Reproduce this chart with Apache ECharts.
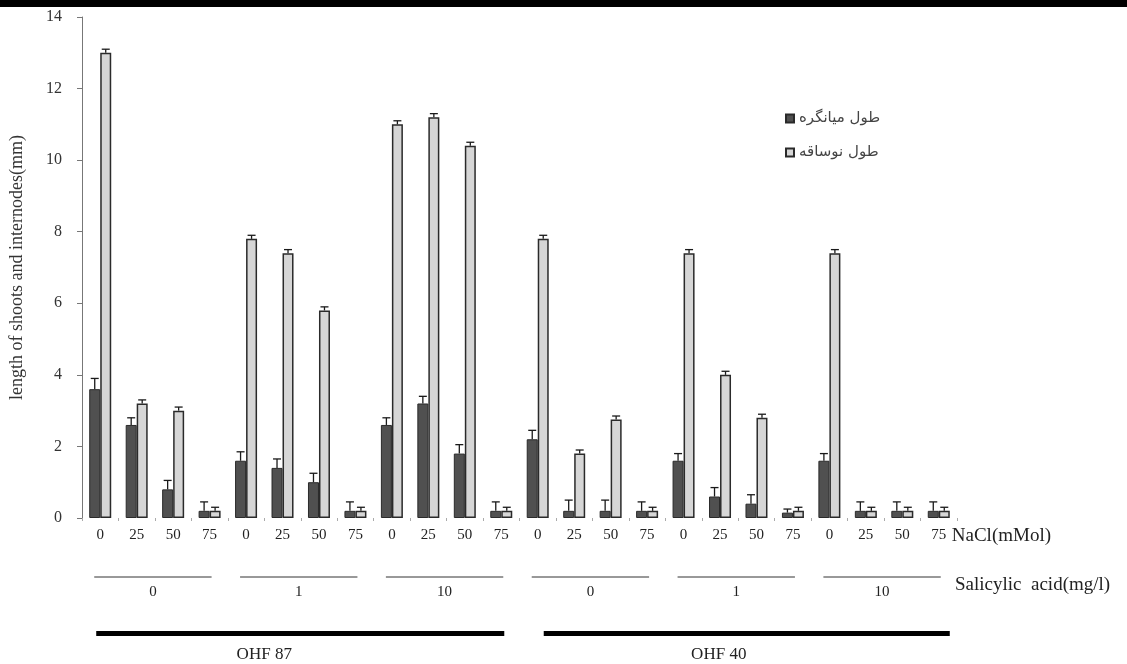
<!DOCTYPE html>
<html><head><meta charset="utf-8">
<script src="https://cdn.jsdelivr.net/npm/echarts@6/dist/echarts.min.js"></script>
<style>html,body{margin:0;padding:0;background:#fff}#c{width:1127px;height:664px}</style>
</head><body><div id="c"></div>
<script>
// ---- data ----
const naclLabels = ['0','25','50','75','0','25','50','75','0','25','50','75','0','25','50','75','0','25','50','75','0','25','50','75'];
const internode    = [3.6,2.6,0.8,0.2, 1.6,1.4,1.0,0.2, 2.6,3.2,1.8,0.2, 2.2,0.2,0.2,0.2, 1.6,0.6,0.4,0.15, 1.6,0.2,0.2,0.2];
const internodeErr = [0.3,0.2,0.25,0.25, 0.25,0.25,0.25,0.25, 0.2,0.2,0.25,0.25, 0.25,0.3,0.3,0.25, 0.2,0.25,0.25,0.1, 0.2,0.25,0.25,0.25];
const shoot        = [13.0,3.2,3.0,0.2, 7.8,7.4,5.8,0.2, 11.0,11.2,10.4,0.2, 7.8,1.8,2.75,0.2, 7.4,4.0,2.8,0.2, 7.4,0.2,0.2,0.2];
const shootErr     = [0.1,0.1,0.1,0.1, 0.1,0.1,0.1,0.1, 0.1,0.1,0.1,0.1, 0.1,0.1,0.1,0.1, 0.1,0.1,0.1,0.1, 0.1,0.1,0.1,0.1];
const salicylicLabels = ['0','1','10','0','1','10'];
const cultivarLabels = ['OHF 87','OHF 40'];
const seriesNames = ['طول میانگره','طول نوساقه'];
const yTicks = {min:0, max:14, interval:2};

const FONT = 'Liberation Serif';
const BAR_W = 11, CAP = 4;
const chart = echarts.init(document.getElementById('c'));

function errItem(sign){
  return function(params, api){
    const i = api.value(0);
    const p0 = api.coord([i, api.value(1)]);
    const p1 = api.coord([i, api.value(2)]);
    const x = p0[0] + sign*BAR_W/2;
    const st = {stroke:'#1a1a1a', lineWidth:1.3};
    return {type:'group', children:[
      {type:'line', shape:{x1:x,y1:p0[1],x2:x,y2:p1[1]}, style:st},
      {type:'line', shape:{x1:x-CAP,y1:p1[1],x2:x+CAP,y2:p1[1]}, style:st}
    ]};
  };
}

chart.setOption({
  backgroundColor:'#fff',
  animation:false,
  grid:{left:79, right:170, top:17, bottom:146},
  legend:{
    data:seriesNames, orient:'vertical', left:780, top:106, itemGap:19,
    itemWidth:8, itemHeight:8, icon:'rect',
    textStyle:{fontFamily:'DejaVu Sans', fontSize:15, color:'#444'}
  },
  xAxis:{
    type:'category', data:naclLabels,
    axisLine:{show:false},
    axisTick:{show:true, length:3, lineStyle:{color:'#aaa'}},
    axisLabel:{fontFamily:FONT, fontSize:15, color:'#222', margin:10, interval:0}
  },
  yAxis:{
    type:'value', min:yTicks.min, max:yTicks.max, interval:yTicks.interval,
    name:'length of shoots and internodes(mm)', nameLocation:'middle', nameGap:56,
    nameTextStyle:{fontFamily:FONT, fontSize:18, color:'#333'},
    axisLine:{show:true, lineStyle:{color:'#777', width:1}},
    axisTick:{show:true, length:5, lineStyle:{color:'#777'}},
    axisLabel:{fontFamily:FONT, fontSize:16, color:'#333', margin:20},
    splitLine:{show:false}
  },
  series:[
    {name:seriesNames[0], type:'bar', data:internode, barWidth:BAR_W, barGap:'0%',
     itemStyle:{color:'#505050', borderColor:'#2a2a2a', borderWidth:1}},
    {name:seriesNames[1], type:'bar', data:shoot, barWidth:BAR_W, barGap:'0%',
     itemStyle:{color:'#d6d6d6', borderColor:'#2a2a2a', borderWidth:1.5}},
    {type:'custom', renderItem:errItem(-1), z:5,
     data:internode.map((v,i)=>[i, v, v+internodeErr[i]])},
    {type:'custom', renderItem:errItem(1), z:5,
     data:shoot.map((v,i)=>[i, v, v+shootErr[i]])}
  ]
});

// ---- group annotations positioned from the category axis ----
const px = i => chart.convertToPixel({xAxisIndex:0}, i);
const g = [{type:'rect', shape:{x:0,y:0,width:1127,height:7}, style:{fill:'#000'}}];
salicylicLabels.forEach((lab, k) => {
  const a = px(k*4) - 6, b = px(k*4+3) + 2;
  g.push({type:'line', shape:{x1:a,y1:577,x2:b,y2:577}, style:{stroke:'#333', lineWidth:1}});
  g.push({type:'text', x:(a+b)/2, y:592, style:{text:lab, font:'15px '+FONT, fill:'#222', align:'center', verticalAlign:'middle'}});
});
cultivarLabels.forEach((lab, k) => {
  const a = px(k*12) - 4 + k*10, b = px(k*12+11) + 3 + k*8;
  g.push({type:'rect', shape:{x:a,y:631,width:b-a,height:5}, style:{fill:'#000'}});
  g.push({type:'text', x:(a+b)/2 - 36 + k*8, y:655, style:{text:lab, font:'17px '+FONT, fill:'#222', align:'center', verticalAlign:'middle'}});
});
g.push({type:'text', x:px(23)+13, y:536, style:{text:'NaCl(mMol)', font:'19px '+FONT, fill:'#222', align:'left', verticalAlign:'middle'}});
g.push({type:'text', x:955, y:585, style:{text:'Salicylic  acid(mg/l)', font:'19px '+FONT, fill:'#222', align:'left', verticalAlign:'middle'}});
chart.setOption({graphic:g});
</script></body></html>
